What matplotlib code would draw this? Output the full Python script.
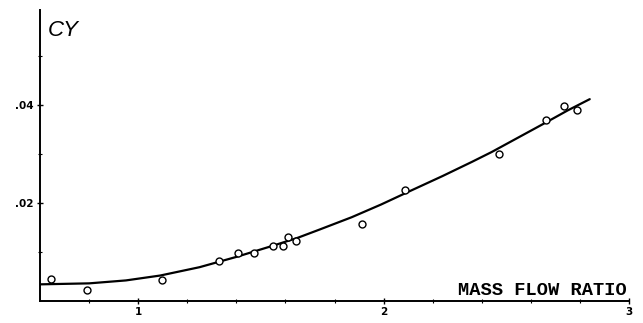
import numpy as np
import matplotlib
matplotlib.use("Agg")
import matplotlib.pyplot as plt
from matplotlib.ticker import FixedLocator, FixedFormatter

# measured points (mass flow ratio, CY)
pts_x = [0.645, 0.793, 1.097, 1.328, 1.405, 1.471, 1.550, 1.589, 1.611, 1.644,
         1.913, 2.086, 2.472, 2.661, 2.736, 2.788]
pts_y = [0.0044, 0.0022, 0.0043, 0.0082, 0.0099, 0.0097, 0.0113, 0.0113, 0.0130, 0.0123,
         0.0157, 0.0227, 0.0301, 0.0369, 0.0398, 0.0390]

# faired curve
curve_x = [0.60, 0.80, 0.95, 1.09, 1.25, 1.40, 1.55, 1.65, 1.74, 1.87, 1.99, 2.11,
           2.24, 2.36, 2.44, 2.55, 2.66, 2.75, 2.84]
curve_y = [0.0034, 0.0036, 0.0042, 0.0052, 0.0069, 0.0090, 0.0113, 0.0129, 0.0146, 0.0171,
           0.0197, 0.0225, 0.0255, 0.0284, 0.0304, 0.0334, 0.0364, 0.0389, 0.0412]

major_y = [0.02, 0.04]
major_y_labels = [".02", ".04"]
minor_y = [0.01, 0.03, 0.05]
major_x = [1, 2, 3]
minor_x = [0.8, 1.2, 1.4, 1.6, 1.8, 2.2, 2.4, 2.6, 2.8]

fig = plt.figure(figsize=(6.43, 3.23), dpi=100)
ax = fig.add_axes([40 / 643, 22 / 323, 589 / 643, 291 / 323])

ax.plot(curve_x, curve_y, color="black", linewidth=1.6,
        solid_capstyle="round", solid_joinstyle="round")
ax.plot(pts_x, pts_y, "o", markersize=5, markerfacecolor="white",
        markeredgecolor="black", markeredgewidth=1.0)

ax.set_xlim(0.6, 3.0)
ax.set_ylim(0, 0.0594)

for s in ["top", "right"]:
    ax.spines[s].set_visible(False)
for s in ["left", "bottom"]:
    ax.spines[s].set_linewidth(1.4)

ax.yaxis.set_major_locator(FixedLocator(major_y))
ax.yaxis.set_major_formatter(FixedFormatter(major_y_labels))
ax.yaxis.set_minor_locator(FixedLocator(minor_y))
ax.xaxis.set_major_locator(FixedLocator(major_x))
ax.xaxis.set_minor_locator(FixedLocator(minor_x))

ax.tick_params(axis="both", which="major", direction="inout", length=5, width=1.0,
               labelsize=7.5, pad=2)
ax.tick_params(axis="both", which="minor", direction="inout", length=3, width=0.8)
for lab in ax.get_xticklabels() + ax.get_yticklabels():
    lab.set_fontweight("bold")

ax.text(0.0136, 0.966, "CY", transform=ax.transAxes, ha="left", va="top",
        fontsize=16, fontstyle="italic", family="Liberation Sans")
ax.text(0.997, 0.021, "MASS FLOW RATIO", transform=ax.transAxes, ha="right",
        va="baseline", fontsize=13.5, fontweight="bold", family="Liberation Mono")

fig.savefig("out.png", dpi=100)
